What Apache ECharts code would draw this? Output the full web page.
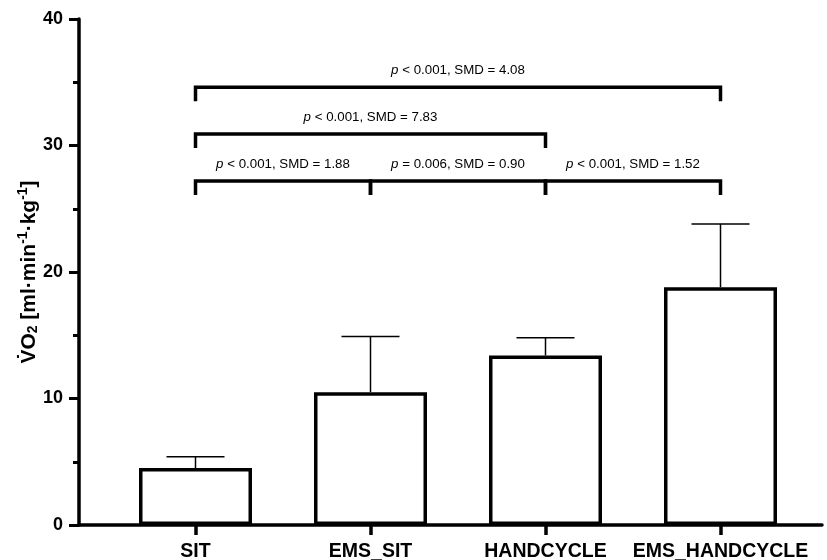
<!DOCTYPE html>
<html>
<head>
<meta charset="utf-8">
<script src="https://cdn.jsdelivr.net/npm/echarts@6/dist/echarts.min.js"></script>
<style>
  html, body { margin: 0; padding: 0; background: #fff; }
  #chart { width: 827px; height: 560px; }
</style>
</head>
<body>
<div id="chart"></div>
<script>
const categories = ['SIT', 'EMS_SIT', 'HANDCYCLE', 'EMS_HANDCYCLE']
const meanValues = [4.5, 10.5, 13.4, 18.8]
const sdValues = [0.9, 4.4, 1.4, 5.0]
const yTicks = [0, 10, 20, 30, 40]

// comparison brackets: from category index, to category index, height, text
const bracketFrom = [0, 0, 0, 1, 2]
const bracketTo = [3, 2, 1, 2, 3]
const bracketY = [34.6, 30.9, 27.2, 27.2, 27.2]
const bracketP = ['< 0.001', '< 0.001', '< 0.001', '= 0.006', '< 0.001']
const bracketSMD = ['4.08', '7.83', '1.88', '0.90', '1.52']

const font = "'Liberation Sans', Arial, sans-serif"

const chart = echarts.init(document.getElementById('chart'))

const errorData = meanValues.map((v, i) => [i, v, v + sdValues[i]])
const bracketData = bracketFrom.map((f, i) => [f, bracketTo[i], bracketY[i], i])

const option = {
  animation: false,
  grid: [
    { left: 108, right: 19, top: 19, bottom: 35, outerBoundsMode: 'none' },
    { left: 79, right: 5, top: 19, bottom: 35, outerBoundsMode: 'none' }
  ],
  xAxis: [
    {
      type: 'category',
      gridIndex: 0,
      data: categories,
      axisLine: { show: false },
      axisTick: { show: true, alignWithLabel: true, length: 10, lineStyle: { width: 3.5, color: '#000' } },
      axisLabel: { color: '#000', fontFamily: font, fontWeight: 'bold', fontSize: 19.5, margin: 17, interval: 0 }
    },
    {
      type: 'value',
      gridIndex: 1,
      min: 0,
      max: 1,
      axisLine: { show: true, lineStyle: { width: 3.5, color: '#000' } },
      axisTick: { show: false },
      axisLabel: { show: false },
      splitLine: { show: false }
    }
  ],
  yAxis: [
    {
      type: 'value',
      gridIndex: 0,
      min: yTicks[0],
      max: yTicks[yTicks.length - 1],
      interval: 10,
      offset: 29,
      axisLine: { show: true, lineStyle: { width: 3.5, color: '#000' } },
      axisTick: { show: true, length: 10, lineStyle: { width: 3, color: '#000' } },
      minorTick: { show: true, splitNumber: 2, length: 6, lineStyle: { width: 3, color: '#000' } },
      splitLine: { show: false },
      axisLabel: { color: '#000', fontFamily: font, fontWeight: 'bold', fontSize: 18, margin: 16 },
      name: '{a|V\u0307O}{sub|2}{a| [ml·min}{sup|-1}{a|·kg}{sup|-1}{a|]}',
      nameLocation: 'middle',
      nameGap: 36,
      nameMoveOverlap: false,
      nameRotate: 90,
      nameTextStyle: {
        color: '#000',
        fontFamily: font,
        fontWeight: 'bold',
        fontSize: 21,
        rich: {
          a: { fontFamily: font, fontWeight: 'bold', fontSize: 21, color: '#000', lineHeight: 28, verticalAlign: 'middle' },
          sub: { fontFamily: font, fontWeight: 'bold', fontSize: 14, color: '#000', lineHeight: 28, verticalAlign: 'bottom', padding: [0, 0, 3, 0] },
          sup: { fontFamily: font, fontWeight: 'bold', fontSize: 14, color: '#000', lineHeight: 28, verticalAlign: 'top', padding: [1, 0, 0, 0] }
        }
      }
    },
    {
      type: 'value',
      gridIndex: 1,
      show: false
    }
  ],
  series: [
    {
      type: 'bar',
      xAxisIndex: 0,
      yAxisIndex: 0,
      barWidth: 113,
      itemStyle: { color: '#fff', borderColor: '#000', borderWidth: 3.5 },
      data: meanValues,
      z: 3
    },
    {
      type: 'custom',
      xAxisIndex: 0,
      yAxisIndex: 0,
      data: errorData,
      z: 2,
      renderItem: (params, api) => {
        const low = api.coord([api.value(0), api.value(1)])
        const high = api.coord([api.value(0), api.value(2)])
        const half = 29
        const style = { stroke: '#000', lineWidth: 1.5 }
        return {
          type: 'group',
          children: [
            { type: 'line', shape: { x1: low[0], y1: low[1], x2: high[0], y2: high[1] }, style },
            { type: 'line', shape: { x1: high[0] - half, y1: high[1], x2: high[0] + half, y2: high[1] }, style }
          ]
        }
      }
    },
    {
      type: 'custom',
      xAxisIndex: 0,
      yAxisIndex: 0,
      data: bracketData,
      z: 4,
      renderItem: (params, api) => {
        const a = api.coord([api.value(0), api.value(2)])
        const b = api.coord([api.value(1), api.value(2)])
        const idx = api.value(3)
        const leg = 14
        const style = { stroke: '#000', lineWidth: 3.5, fill: null }
        return {
          type: 'group',
          children: [
            {
              type: 'polyline',
              shape: { points: [[a[0], a[1] + leg], [a[0], a[1]], [b[0], b[1]], [b[0], b[1] + leg]] },
              style
            },
            {
              type: 'text',
              x: (a[0] + b[0]) / 2,
              y: a[1] - 17,
              style: {
                text: '{i|p} ' + bracketP[idx] + ', SMD = ' + bracketSMD[idx],
                align: 'center',
                verticalAlign: 'middle',
                fontFamily: font,
                fontSize: 13.3,
                fill: '#000',
                rich: {
                  i: { fontStyle: 'italic', fontFamily: font, fontSize: 13.3, fill: '#000' }
                }
              }
            }
          ]
        }
      }
    }
  ]
}

chart.setOption(option)
</script>
</body>
</html>
